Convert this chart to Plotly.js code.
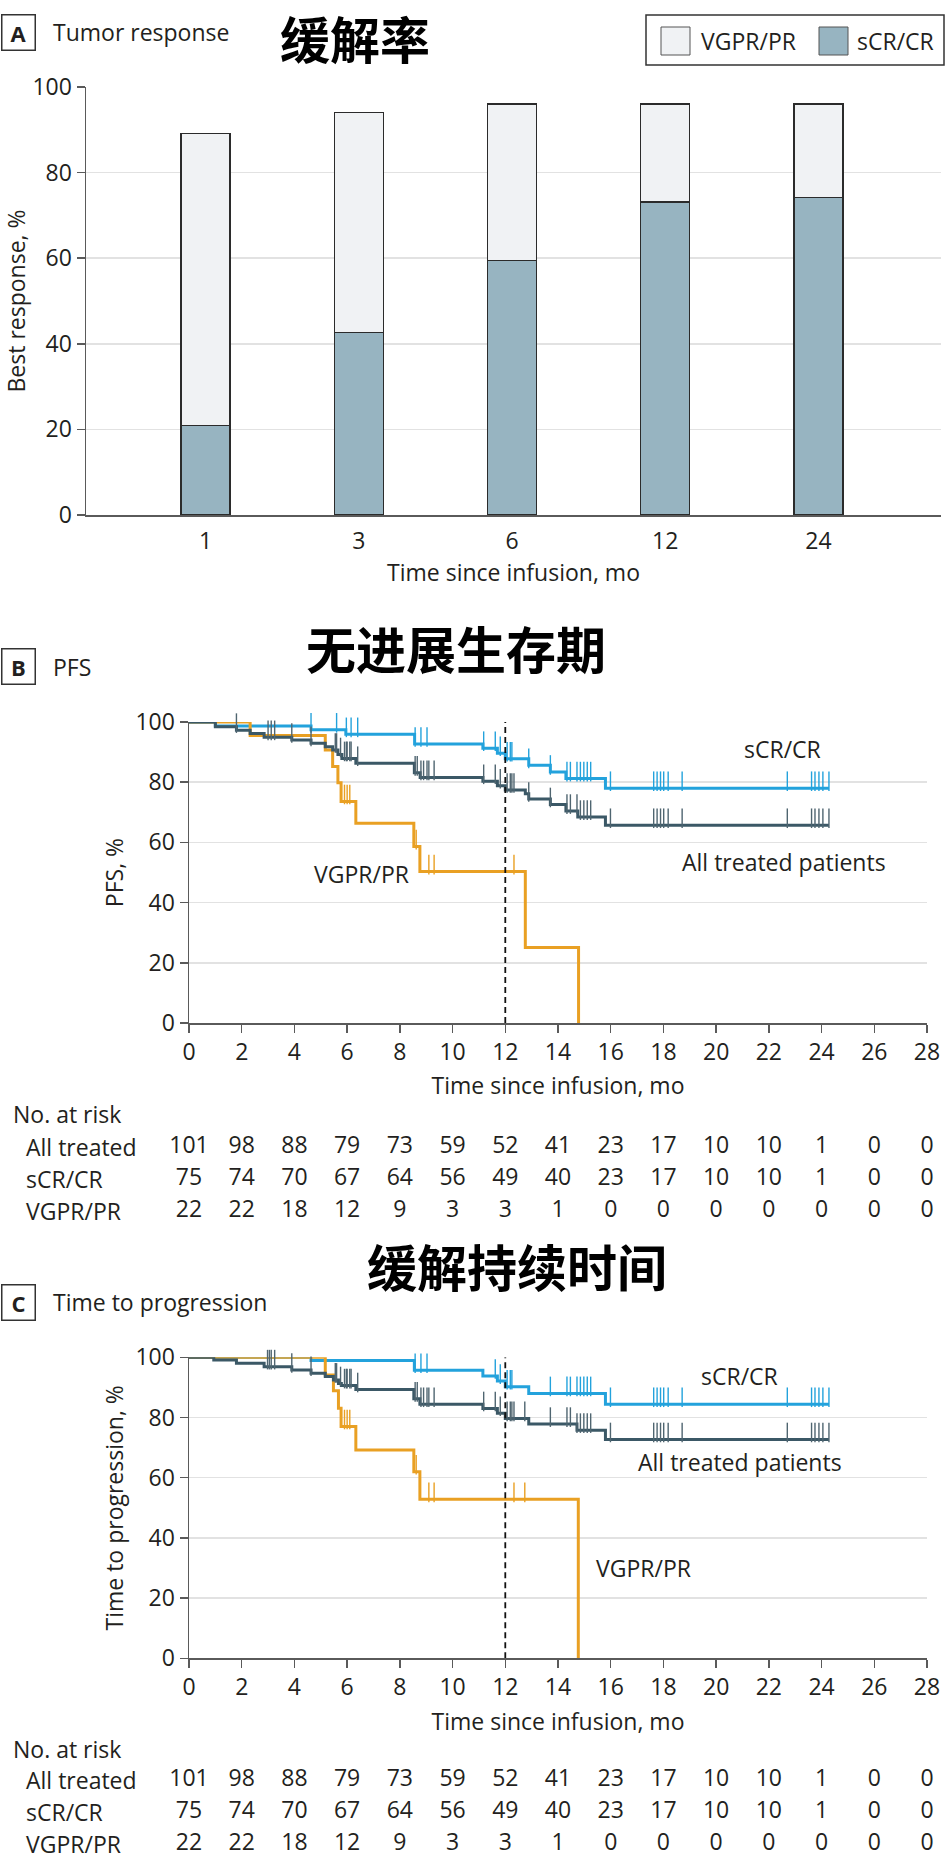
<!DOCTYPE html>
<html><head><meta charset="utf-8">
<script src="https://cdn.plot.ly/plotly-3.0.1.min.js"></script>
<style>html,body{margin:0;padding:0;background:#fff;}#chart{width:947px;height:1868px;}</style>
</head><body><div id="chart"></div>
<script>
// ---------- Panel A: tumor response ----------
const responseMonths = ['1', '3', '6', '12', '24'];
const crPct = [20.9, 42.7, 59.5, 73.1, 74.2];      // sCR/CR
const vgprPct = [68.3, 51.4, 36.5, 22.9, 21.8];    // VGPR/PR (stacked on top)

// ---------- Panel B: PFS (Kaplan-Meier steps) ----------
const pfsAllT = [0, 1.0, 1.8, 2.32, 2.85, 3.9, 4.63, 5.17, 5.45, 5.65, 5.8, 6.33, 8.55, 8.77, 11.15, 11.7, 12.0, 12.76, 12.89, 13.71, 14.3, 14.75, 15.8];
const pfsAllS = [100, 98.4, 97.3, 96.2, 94.9, 94.0, 92.9, 91.8, 90.7, 89.2, 87.9, 86.3, 83.1, 81.6, 80.3, 78.8, 77.4, 76.2, 74.4, 72.6, 70.4, 68.4, 65.7];
const pfsCrT = [0, 1.0, 4.63, 5.95, 8.56, 11.15, 11.7, 12.0, 12.89, 13.71, 14.3, 15.8];
const pfsCrS = [100, 98.7, 97.4, 95.9, 92.7, 91.3, 89.6, 87.8, 85.6, 83.4, 81.2, 78.0];
const pfsVgT = [0, 2.32, 5.17, 5.45, 5.65, 5.77, 6.33, 8.53, 8.76, 12.76, 14.78];
const pfsVgS = [100, 95.5, 90.7, 85.2, 79.8, 73.6, 66.4, 58.6, 50.3, 25.1, 0];
const pfsCrCens = [1.0, 3.0, 3.12, 3.25, 4.63, 5.6, 5.97, 6.15, 6.4, 8.58, 8.8, 9.03, 11.18, 11.62, 11.81, 12.07, 12.19, 12.25, 12.89, 13.71, 14.34, 14.47, 14.72, 14.85, 14.98, 15.11, 15.24, 15.99, 17.63, 17.76, 17.89, 18.01, 18.18, 18.71, 22.7, 23.62, 23.75, 23.9, 24.05, 24.28];
const pfsVgCens = [5.9, 6.0, 6.1, 8.62, 9.1, 9.3, 12.33];
const pfsAllCens = [1.0, 1.8, 3.0, 3.12, 3.25, 3.9, 4.63, 5.55, 5.6, 5.75, 5.9, 5.97, 6.0, 6.1, 6.15, 6.4, 8.58, 8.66, 8.8, 8.9, 9.03, 9.1, 9.3, 11.18, 11.62, 11.81, 12.07, 12.19, 12.25, 12.33, 12.89, 13.71, 14.34, 14.47, 14.72, 14.85, 14.98, 15.11, 15.24, 15.99, 17.63, 17.76, 17.89, 18.01, 18.18, 18.71, 22.7, 23.62, 23.75, 23.9, 24.05, 24.28];

// ---------- Panel C: time to progression ----------
const ttpAllT = [0, 0.94, 1.8, 2.85, 3.9, 4.63, 5.17, 5.48, 5.67, 5.78, 6.33, 8.53, 8.76, 11.15, 11.7, 12.0, 12.89, 14.72, 15.8];
const ttpAllS = [100, 99.1, 98.0, 96.9, 95.8, 94.7, 93.6, 92.5, 91.3, 90.6, 89.3, 86.2, 84.4, 83.0, 81.4, 79.7, 77.8, 75.8, 72.7];
const ttpCrT = [0, 4.63, 8.55, 11.15, 11.7, 12.0, 12.89, 15.8];
const ttpCrS = [100, 98.9, 95.7, 93.8, 92.1, 90.2, 88.0, 84.4];
const ttpVgT = [0, 5.17, 5.48, 5.67, 5.77, 6.33, 8.53, 8.76, 14.77];
const ttpVgS = [100, 94.1, 88.9, 83.1, 77.0, 69.2, 62.0, 52.8, 0];
const ttpCrCens = [1.0, 3.0, 3.12, 3.25, 4.63, 5.6, 5.97, 6.15, 6.4, 8.58, 8.8, 9.03, 11.62, 11.81, 12.07, 12.19, 12.25, 13.71, 14.34, 14.47, 14.72, 14.85, 14.98, 15.11, 15.24, 15.99, 17.63, 17.76, 17.89, 18.01, 18.18, 18.71, 22.7, 23.62, 23.75, 23.9, 24.05, 24.28];
const ttpVgCens = [2.32, 2.98, 3.05, 5.9, 6.0, 6.1, 8.62, 9.1, 9.3, 12.33, 12.74];
const ttpAllCens = [1.0, 1.8, 2.32, 2.98, 3.05, 3.12, 3.25, 3.9, 4.63, 5.55, 5.6, 5.75, 5.9, 5.97, 6.0, 6.1, 6.15, 6.4, 8.58, 8.66, 8.8, 8.9, 9.03, 9.1, 9.3, 11.18, 11.62, 11.81, 12.07, 12.19, 12.25, 12.33, 12.74, 13.71, 14.34, 14.47, 14.72, 14.85, 14.98, 15.11, 15.24, 15.99, 17.63, 17.76, 17.89, 18.01, 18.18, 18.71, 22.7, 23.62, 23.75, 23.9, 24.05, 24.28];

const landmarkMonth = 12;

// ---------- Number at risk ----------
const riskMonths = [0, 2, 4, 6, 8, 10, 12, 14, 16, 18, 20, 22, 24, 26, 28];
const riskAll = [101, 98, 88, 79, 73, 59, 52, 41, 23, 17, 10, 10, 1, 0, 0];
const riskCr = [75, 74, 70, 67, 64, 56, 49, 40, 23, 17, 10, 10, 1, 0, 0];
const riskVg = [22, 22, 18, 12, 9, 3, 3, 1, 0, 0, 0, 0, 0, 0, 0];
const riskRowLabels = ['All treated', 'sCR/CR', 'VGPR/PR'];

// ---------- styling ----------
const W = 947, H = 1868;
const px = v => v / W;
const py = v => 1 - v / H;
const FONT = "'Open Sans', 'Noto Sans', sans-serif";
const CJK = "'Noto Sans CJK SC', sans-serif";
const FS = 23;
const TXT = '#231f20';
const AXC = '#5a5a5a';
const GRID = '#e2e2e2';
const BLUE = '#23a2dc', DARK = '#3b5866', ORANGE = '#e9a023';
const CR_FILL = '#97b4c1', VG_FILL = '#f0f2f4';
const KM_PLOT_PX = 301;   // pixel height of KM plot area (0..100)
const CENS_PX = 14;

function stepValue(times, surv, t) {
  let v = surv[0];
  for (let i = 0; i < times.length; i++) if (times[i] <= t) v = surv[i];
  return v;
}
function kmLine(times, surv, cens, color, xa, ya) {
  const xs = times.slice(), ys = surv.slice();
  const lastC = Math.max.apply(null, cens);
  if (lastC > times[times.length - 1]) { xs.push(lastC); ys.push(surv[surv.length - 1]); }
  return {type: 'scatter', mode: 'lines', x: xs, y: ys, xaxis: xa, yaxis: ya,
    line: {shape: 'hv', color: color, width: 3}, hoverinfo: 'skip', showlegend: false};
}
function censMarks(times, surv, cens, color, xa, ya) {
  const off = (CENS_PX / 2) / (KM_PLOT_PX / 100);
  return {type: 'scatter', mode: 'markers', x: cens, y: cens.map(t => stepValue(times, surv, t) + off),
    xaxis: xa, yaxis: ya, cliponaxis: false, hoverinfo: 'skip', showlegend: false,
    marker: {symbol: 'line-ns', size: CENS_PX, color: color, line: {color: color, width: 1.4}}};
}
function riskTrace(values, row, xa, ya) {
  return {type: 'scatter', mode: 'text', x: riskMonths, y: riskMonths.map(() => row), text: values.map(String),
    textposition: 'middle center', textfont: {family: FONT, size: FS, color: TXT},
    xaxis: xa, yaxis: ya, cliponaxis: false, hoverinfo: 'skip', showlegend: false};
}

const traces = [
  {type: 'bar', name: 'sCR/CR', x: responseMonths, y: crPct, width: 0.32, xaxis: 'x', yaxis: 'y',
   marker: {color: CR_FILL, line: {color: '#2b2b2b', width: 1.3}}, hoverinfo: 'skip', showlegend: false},
  {type: 'bar', name: 'VGPR/PR', x: responseMonths, y: vgprPct, width: 0.32, xaxis: 'x', yaxis: 'y',
   marker: {color: VG_FILL, line: {color: '#2b2b2b', width: 1.3}}, hoverinfo: 'skip', showlegend: false},

  kmLine(pfsCrT, pfsCrS, pfsCrCens, BLUE, 'x2', 'y2'),
  kmLine(pfsVgT, pfsVgS, pfsVgCens, ORANGE, 'x2', 'y2'),
  kmLine(pfsAllT, pfsAllS, pfsAllCens, DARK, 'x2', 'y2'),
  censMarks(pfsCrT, pfsCrS, pfsCrCens, BLUE, 'x2', 'y2'),
  censMarks(pfsVgT, pfsVgS, pfsVgCens, ORANGE, 'x2', 'y2'),
  censMarks(pfsAllT, pfsAllS, pfsAllCens, '#4f6570', 'x2', 'y2'),
  {type: 'scatter', mode: 'lines', x: [landmarkMonth, landmarkMonth], y: [0, 100], xaxis: 'x2', yaxis: 'y2',
   line: {color: '#111', width: 1.8, dash: '6px,4px'}, hoverinfo: 'skip', showlegend: false},

  kmLine(ttpCrT, ttpCrS, ttpCrCens, BLUE, 'x3', 'y3'),
  kmLine(ttpVgT, ttpVgS, ttpVgCens, ORANGE, 'x3', 'y3'),
  kmLine(ttpAllT, ttpAllS, ttpAllCens, DARK, 'x3', 'y3'),
  censMarks(ttpCrT, ttpCrS, ttpCrCens, BLUE, 'x3', 'y3'),
  censMarks(ttpVgT, ttpVgS, ttpVgCens, ORANGE, 'x3', 'y3'),
  censMarks(ttpAllT, ttpAllS, ttpAllCens, '#4f6570', 'x3', 'y3'),
  {type: 'scatter', mode: 'lines', x: [landmarkMonth, landmarkMonth], y: [0, 100], xaxis: 'x3', yaxis: 'y3',
   line: {color: '#111', width: 1.8, dash: '6px,4px'}, hoverinfo: 'skip', showlegend: false},

  riskTrace(riskAll, 1, 'x2', 'y4'), riskTrace(riskCr, 2, 'x2', 'y4'), riskTrace(riskVg, 3, 'x2', 'y4'),
  riskTrace(riskAll, 1, 'x3', 'y5'), riskTrace(riskCr, 2, 'x3', 'y5'), riskTrace(riskVg, 3, 'x3', 'y5')
];

const tickFont = {family: FONT, size: FS, color: TXT};
const titleFont = {family: FONT, size: FS, color: TXT};
const kmX = (anchor, dom) => ({domain: dom, anchor: anchor, range: [0, 28], dtick: 2, tick0: 0,
  showline: true, linecolor: AXC, linewidth: 1.5, ticks: 'outside', ticklen: 8, tickwidth: 1.5, tickcolor: AXC,
  showgrid: false, zeroline: false, tickfont: tickFont,
  title: {text: 'Time since infusion, mo', font: titleFont, standoff: 12}});
const kmY = (anchor, dom, title) => ({domain: dom, anchor: anchor, range: [0, 100], dtick: 20, tick0: 0,
  showline: true, linecolor: AXC, linewidth: 1.5, ticks: 'outside', ticklen: 8, tickwidth: 1.5, tickcolor: AXC,
  showgrid: true, gridcolor: GRID, gridwidth: 1.5, zeroline: false, tickfont: tickFont,
  title: {text: title, font: titleFont, standoff: 5}});

const kmXdom = [px(189), px(927)];
const layout = {
  width: W, height: H, margin: {l: 0, r: 0, t: 0, b: 0},
  paper_bgcolor: '#fff', plot_bgcolor: '#fff', showlegend: false, barmode: 'stack',
  font: {family: FONT, size: FS, color: TXT},
  xaxis: {domain: [px(86), px(941)], anchor: 'y', type: 'category', categoryarray: responseMonths,
    range: [-0.78, 4.8], showline: true, linecolor: AXC, linewidth: 1.5, ticks: '', showgrid: false,
    tickfont: tickFont, ticklabelstandoff: 5,
    title: {text: 'Time since infusion, mo', font: titleFont, standoff: 6}},
  yaxis: {domain: [py(515), py(87)], anchor: 'x', range: [0, 100], dtick: 20, tick0: 0,
    showline: true, linecolor: AXC, linewidth: 1.5, ticks: 'outside', ticklen: 8, tickwidth: 1.5, tickcolor: AXC,
    showgrid: true, gridcolor: GRID, gridwidth: 1.5, zeroline: false, tickfont: tickFont,
    title: {text: 'Best response, %', font: titleFont, standoff: 5}},
  xaxis2: kmX('y2', kmXdom),
  yaxis2: kmY('x2', [py(1023), py(722)], 'PFS, %'),
  xaxis3: kmX('y3', kmXdom),
  yaxis3: kmY('x3', [py(1658.3), py(1357.3)], 'Time to progression, %'),
  yaxis4: {domain: [py(1227), py(1131)], anchor: 'x2', range: [3.5, 0.5], visible: false, fixedrange: true},
  yaxis5: {domain: [py(1860), py(1764)], anchor: 'x3', range: [3.5, 0.5], visible: false, fixedrange: true},
  shapes: [
    // manual legend for panel A
    {type: 'rect', xref: 'paper', yref: 'paper', x0: px(646), x1: px(944), y0: py(65), y1: py(15),
     line: {color: '#333', width: 1.5}, fillcolor: 'rgba(0,0,0,0)'},
    {type: 'rect', xref: 'paper', yref: 'paper', x0: px(661), x1: px(690), y0: py(55), y1: py(27),
     line: {color: '#555', width: 1}, fillcolor: VG_FILL},
    {type: 'rect', xref: 'paper', yref: 'paper', x0: px(819), x1: px(848), y0: py(55), y1: py(27),
     line: {color: '#555', width: 1}, fillcolor: CR_FILL}
  ],
  annotations: []
};

const ann = layout.annotations;
function panelLabel(letter, cy, title, cjk, cjkX, cjkY) {
  ann.push({xref: 'paper', yref: 'paper', x: px(18), y: py(cy), xanchor: 'center', yanchor: 'middle',
    text: '<b>' + letter + '</b>', showarrow: false, width: 32, height: 34, borderpad: 0,
    bordercolor: '#333', borderwidth: 1.5, font: {family: FONT, size: 22, color: TXT}});
  ann.push({xref: 'paper', yref: 'paper', x: px(51), y: py(cy), xanchor: 'left', yanchor: 'middle',
    text: title, showarrow: false, font: {family: FONT, size: FS, color: TXT}});
  ann.push({xref: 'paper', yref: 'paper', x: px(cjkX), y: py(cjkY), xanchor: 'center', yanchor: 'middle',
    text: '<b>' + cjk + '</b>', showarrow: false, font: {family: CJK, size: 50, color: '#000'}});
}
panelLabel('A', 32, 'Tumor response', '缓解率', 355, 37);
panelLabel('B', 667, 'PFS', '无进展生存期', 456, 647);
panelLabel('C', 1302, 'Time to progression', '缓解持续时间', 517, 1265);

ann.push({xref: 'paper', yref: 'paper', x: px(699), y: py(41), xanchor: 'left', yanchor: 'middle',
  text: 'VGPR/PR', showarrow: false, font: {family: FONT, size: FS, color: TXT}});
ann.push({xref: 'paper', yref: 'paper', x: px(855), y: py(41), xanchor: 'left', yanchor: 'middle',
  text: 'sCR/CR', showarrow: false, font: {family: FONT, size: FS, color: TXT}});

// curve labels
const curveLabel = (xa, ya, x, y, t) => ann.push({xref: xa, yref: ya, x: x, y: y, text: t, showarrow: false,
  xanchor: 'center', yanchor: 'middle', font: {family: FONT, size: FS, color: TXT}});
curveLabel('x2', 'y2', 22.5, 91.0, 'sCR/CR');
curveLabel('x2', 'y2', 22.56, 53.5, 'All treated patients');
curveLabel('x2', 'y2', 6.53, 49.5, 'VGPR/PR');
curveLabel('x3', 'y3', 20.9, 93.8, 'sCR/CR');
curveLabel('x3', 'y3', 20.9, 65.2, 'All treated patients');
curveLabel('x3', 'y3', 17.24, 30.0, 'VGPR/PR');

// risk table labels
function riskLabels(headerY, ya) {
  ann.push({xref: 'paper', yref: 'paper', x: px(11), y: py(headerY), xanchor: 'left', yanchor: 'middle',
    text: 'No. at risk', showarrow: false, font: {family: FONT, size: FS, color: TXT}});
  riskRowLabels.forEach((lab, i) => ann.push({xref: 'paper', yref: ya, x: px(24), y: i + 1, xanchor: 'left',
    yanchor: 'middle', text: lab, showarrow: false, font: {family: FONT, size: FS, color: TXT}}));
}
riskLabels(1114, 'y4');
riskLabels(1749, 'y5');

Plotly.newPlot('chart', traces, layout, {staticPlot: true, displayModeBar: false});
</script></body></html>
